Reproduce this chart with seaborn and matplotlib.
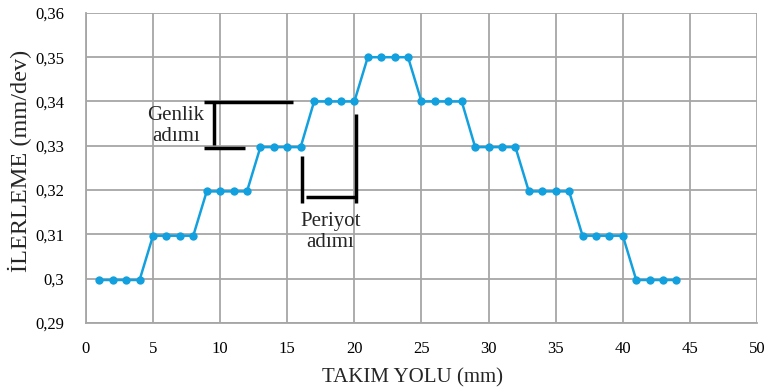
import matplotlib
matplotlib.use("Agg")
import matplotlib.pyplot as plt
import seaborn as sns
import pandas as pd

tool_path = list(range(1, 45))
feed = ([0.2997] * 4 + [0.3097] * 4 + [0.3197] * 4 + [0.3297] * 4 + [0.340] * 4 +
        [0.350] * 4 + [0.340] * 4 + [0.3297] * 4 + [0.3197] * 4 + [0.3097] * 4 + [0.2997] * 4)
x_ticks = [0, 5, 10, 15, 20, 25, 30, 35, 40, 45, 50]
y_ticks = [0.29, 0.30, 0.31, 0.32, 0.33, 0.34, 0.35, 0.36]
y_tick_labels = ["0,29", "0,3", "0,31", "0,32", "0,33", "0,34", "0,35", "0,36"]

df = pd.DataFrame({"x": tool_path, "y": feed})

sns.set_style("white")
plt.rcParams['font.family'] = ['Liberation Serif', 'DejaVu Serif']

fig = plt.figure(figsize=(7.67, 3.91), dpi=100)
ax = fig.add_axes([0.112, 0.174, 0.875, 0.793])

ax.grid(True, color="#A6A6A6", lw=1.3)
ax.set_axisbelow(True)

sns.lineplot(data=df, x="x", y="y", ax=ax, color="#13A0DE", lw=1.8,
             marker="o", markersize=6, markeredgewidth=0, zorder=3)

ax.set_xlim(0, 50)
ax.set_ylim(0.29, 0.36)
ax.set_xticks(x_ticks)
ax.set_xticklabels([str(t) for t in x_ticks])
ax.set_yticks(y_ticks)
ax.set_yticklabels(y_tick_labels)
ax.tick_params(axis="both", length=0, labelsize=12, colors="black")
ax.tick_params(axis="y", pad=15.5)
ax.tick_params(axis="x", pad=13)
for s in ["top", "right"]:
    ax.spines[s].set_visible(False)
for s in ["left", "bottom"]:
    ax.spines[s].set_color("#A6A6A6")
    ax.spines[s].set_linewidth(1.3)

ax.set_xlabel("TAKIM YOLU (mm)", fontsize=15)
ax.set_ylabel("İLERLEME (mm/dev)", fontsize=17.5)
ax.xaxis.set_label_coords(0.486, -0.145)
ax.yaxis.set_label_coords(-0.08, 0.523)

# annotations
blk = dict(color="black", lw=2.5, solid_capstyle="butt", zorder=4)
ax.plot([8.79, 15.4], [0.3398, 0.3398], **blk)
ax.plot([8.79, 11.85], [0.3294, 0.3294], **blk)
ax.plot([9.56, 9.56], [0.3396, 0.3302], **blk)
ax.text(6.7, 0.3345, "Genlik\nadımı", ha="center", va="center", fontsize=15, linespacing=1.1)

ax.plot([16.1, 16.1], [0.3277, 0.3170], **blk)
ax.plot([20.1, 20.1], [0.3371, 0.3170], **blk)
ax.plot([16.37, 20.1], [0.3185, 0.3185], **blk)
ax.text(18.2, 0.3105, "Periyot\nadımı", ha="center", va="center", fontsize=15, linespacing=1.1)

fig.savefig("out.png", dpi=100)
